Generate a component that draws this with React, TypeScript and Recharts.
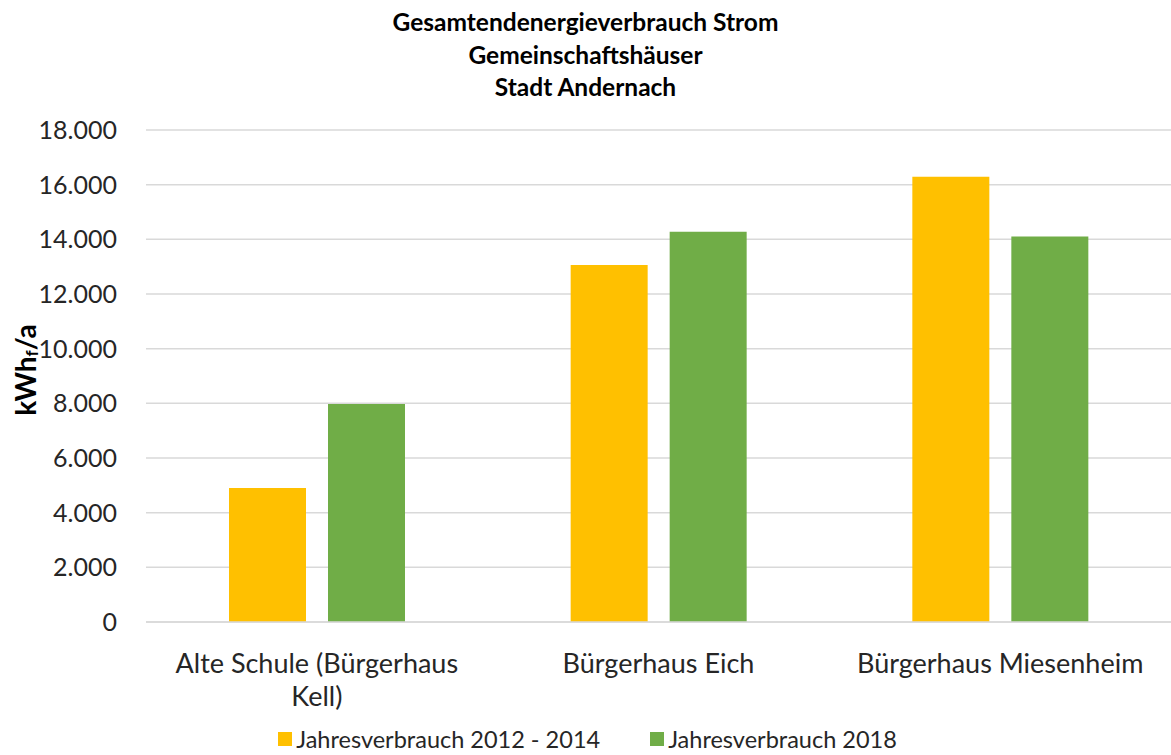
import { Bar, BarChart, CartesianGrid, Legend, XAxis, YAxis } from "recharts";

const FONT = "Lato, 'Open Sans', sans-serif";
const ORANGE = "#FFC000";
const GREEN = "#70AD47";

const categories = ["Alte Schule (Bürgerhaus Kell)", "Bürgerhaus Eich", "Bürgerhaus Miesenheim"];
const verbrauch2012_2014 = [4900, 13060, 16290];
const verbrauch2018 = [7980, 14280, 14100];
const yTicks = [0, 2000, 4000, 6000, 8000, 10000, 12000, 14000, 16000, 18000];
const titleLines = ["Gesamtendenergieverbrauch Strom", "Gemeinschaftshäuser", "Stadt Andernach"];

const data = categories.map((name, i) => ({
  name,
  a: verbrauch2012_2014[i],
  b: verbrauch2018[i],
}));

// 18000 -> "18.000"
const fmt = (v: number) => String(v).replace(/\B(?=(\d{3})+(?!\d))/g, ".");

function wrap(text: string, max = 24) {
  const lines: string[] = [];
  let cur = "";
  for (const w of text.split(" ")) {
    if (cur && (cur + " " + w).length > max) {
      lines.push(cur);
      cur = w;
    } else cur = cur ? cur + " " + w : w;
  }
  if (cur) lines.push(cur);
  return lines;
}

function CategoryTick({ x, y, payload }: any) {
  const lines = wrap(payload.value);
  return (
    <text x={x} y={y + 43} textAnchor="middle" fontFamily={FONT} fontSize={27} fill="#262626">
      {lines.map((l, i) => (
        <tspan key={i} x={x} dy={i === 0 ? 0 : 33}>
          {l}
        </tspan>
      ))}
    </text>
  );
}

function UnitLabel() {
  return (
    <text
      x={25}
      y={370}
      transform="rotate(-90 25 370)"
      textAnchor="middle"
      dominantBaseline="central"
      fontFamily={FONT}
      fontSize={28}
      fontWeight="bold"
      fill="#000"
    >
      kWh
      <tspan fontSize={17} dy={6}>f</tspan>
      <tspan dy={-6}>/a</tspan>
    </text>
  );
}

function LegendContent({ payload }: any) {
  return (
    <div
      style={{
        display: "flex",
        justifyContent: "center",
        gap: 50,
        marginTop: 4,
        marginLeft: 4,
        fontFamily: FONT,
        fontSize: 23.5,
        color: "#262626",
        lineHeight: "26px",
      }}
    >
      {(payload || []).map((p: any) => (
        <div key={p.value} style={{ display: "flex", alignItems: "center", gap: 4 }}>
          <span style={{ width: 14, height: 14, background: p.color, display: "inline-block" }} />
          <span>{p.value}</span>
        </div>
      ))}
    </div>
  );
}

export default function App() {
  return (
    <div style={{ position: "absolute", left: 0, top: 0, width: 1171, height: 755, background: "#fff" }}>
      <div
        style={{
          position: "absolute",
          top: 6,
          left: 0,
          width: 1171,
          textAlign: "center",
          fontFamily: FONT,
          fontWeight: "bold",
          fontSize: 24.5,
          lineHeight: "32.5px",
          color: "#000",
        }}
      >
        {titleLines.map((t) => (
          <div key={t}>{t}</div>
        ))}
      </div>
      <BarChart
        width={1171}
        height={755}
        data={data}
        margin={{ top: 130, right: 0, left: 0, bottom: 0 }}
        barSize={77}
        barGap={22}
      >
        <CartesianGrid vertical={false} stroke="#D9D9D9" strokeWidth={1.5} />
        <XAxis
          dataKey="name"
          height={100}
          tickLine={false}
          axisLine={{ stroke: "#D9D9D9", strokeWidth: 1.5 }}
          tick={<CategoryTick />}
          interval={0}
        />
        <YAxis
          width={146}
          domain={[0, 18000]}
          ticks={yTicks}
          tickFormatter={fmt}
          tickLine={false}
          axisLine={false}
          tickMargin={23}
          tick={{ fontFamily: FONT, fontSize: 25, fill: "#262626" }}
          label={<UnitLabel />}
        />
        <Legend verticalAlign="bottom" height={33} content={<LegendContent />} />
        <Bar dataKey="a" name="Jahresverbrauch 2012 - 2014" fill={ORANGE} isAnimationActive={false} />
        <Bar dataKey="b" name="Jahresverbrauch 2018" fill={GREEN} isAnimationActive={false} />
      </BarChart>
    </div>
  );
}
